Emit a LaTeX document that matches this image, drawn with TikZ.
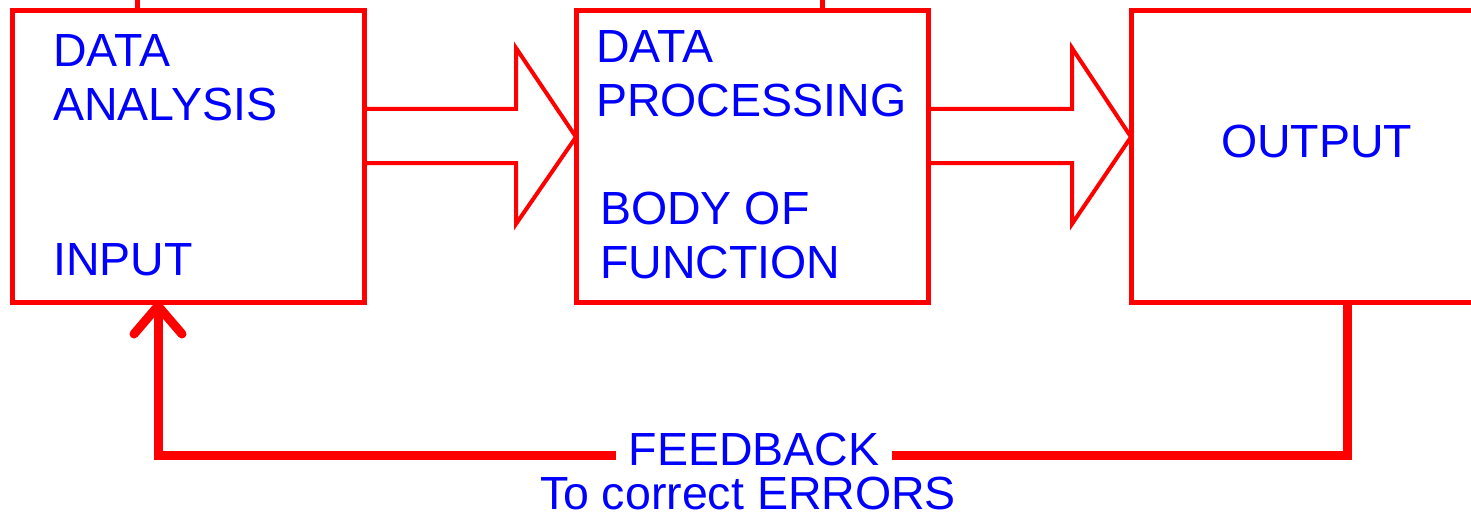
\documentclass[tikz,border=0pt]{standalone}
\usepackage{fontspec}
\setmainfont{Liberation Sans}
\definecolor{dred}{RGB}{255,0,0}
\definecolor{dblue}{RGB}{0,0,255}
\begin{document}
\begin{tikzpicture}[x=1pt,y=-1pt,
  box/.style={draw=dred,line width=5pt,minimum height=291pt,inner sep=0pt,outer sep=0pt},
  thin/.style={draw=dred,line width=5pt},
  blockarrow/.style={draw=dred,line width=4pt,line join=miter},
  fb/.style={draw=dred,line width=9pt},
  txt/.style={text=dblue,font=\fontsize{46.5}{54}\selectfont},
  lbl/.style={txt,anchor=base west,inner sep=0pt}]
\useasboundingbox (0,0) rectangle (1471,516);
\node[box,minimum width=352pt] (a) at (188,156.5) {};
\node[box,minimum width=352pt] (b) at (752,156.5) {};
\node[box,minimum width=369pt] (c) at (1315.5,156.5) {};
% stubs at top
\coordinate (s1) at (137,-6);
\coordinate (s2) at (822,-6);
\draw[thin] (a.north -| s1) -- (s1);
\draw[thin] (b.north -| s2) -- (s2);
% texts
\node[lbl] (t1) at (53,67) {DATA};
\node[lbl] (t2) at (53,121) {ANALYSIS};
\node[lbl] (t3) at (53,275) {INPUT};
\node[lbl] (t4) at (596,63) {DATA};
\node[lbl] (t5) at (596,117) {PROCESSING};
\node[lbl] (t6) at (600,224) {BODY OF};
\node[lbl] (t7) at (600,278) {FUNCTION};
\node[lbl] (t8) at (1221,157) {OUTPUT};
% block arrows
\draw[blockarrow] (a.east |- 0,109) -- (516,109) -- (516,48) -- (b.west |- 0,137) -- (516,224) -- (516,163) -- (a.east |- 0,163);
\draw[blockarrow] (b.east |- 0,109) -- (1072,109) -- (1072,48) -- (c.west |- 0,137) -- (1072,224) -- (1072,163) -- (b.east |- 0,163);
% feedback
\node[txt,anchor=base,inner xsep=12pt,inner ysep=0pt] (fbk) at (754,465) {FEEDBACK};
\node[txt,anchor=base,inner sep=0pt] (err) at (748,509) {To correct ERRORS};
\draw[fb] (c.south -| 1347,0) -- (1347,455) -- (fbk.east |- 0,455);
\draw[fb] (fbk.west |- 0,455) -- (158,455) -- (a.south -| 158,0);
\draw[fb,line cap=round,line join=round] (134,334) -- (158,306) -- (182,334);
\end{tikzpicture}
\end{document}
